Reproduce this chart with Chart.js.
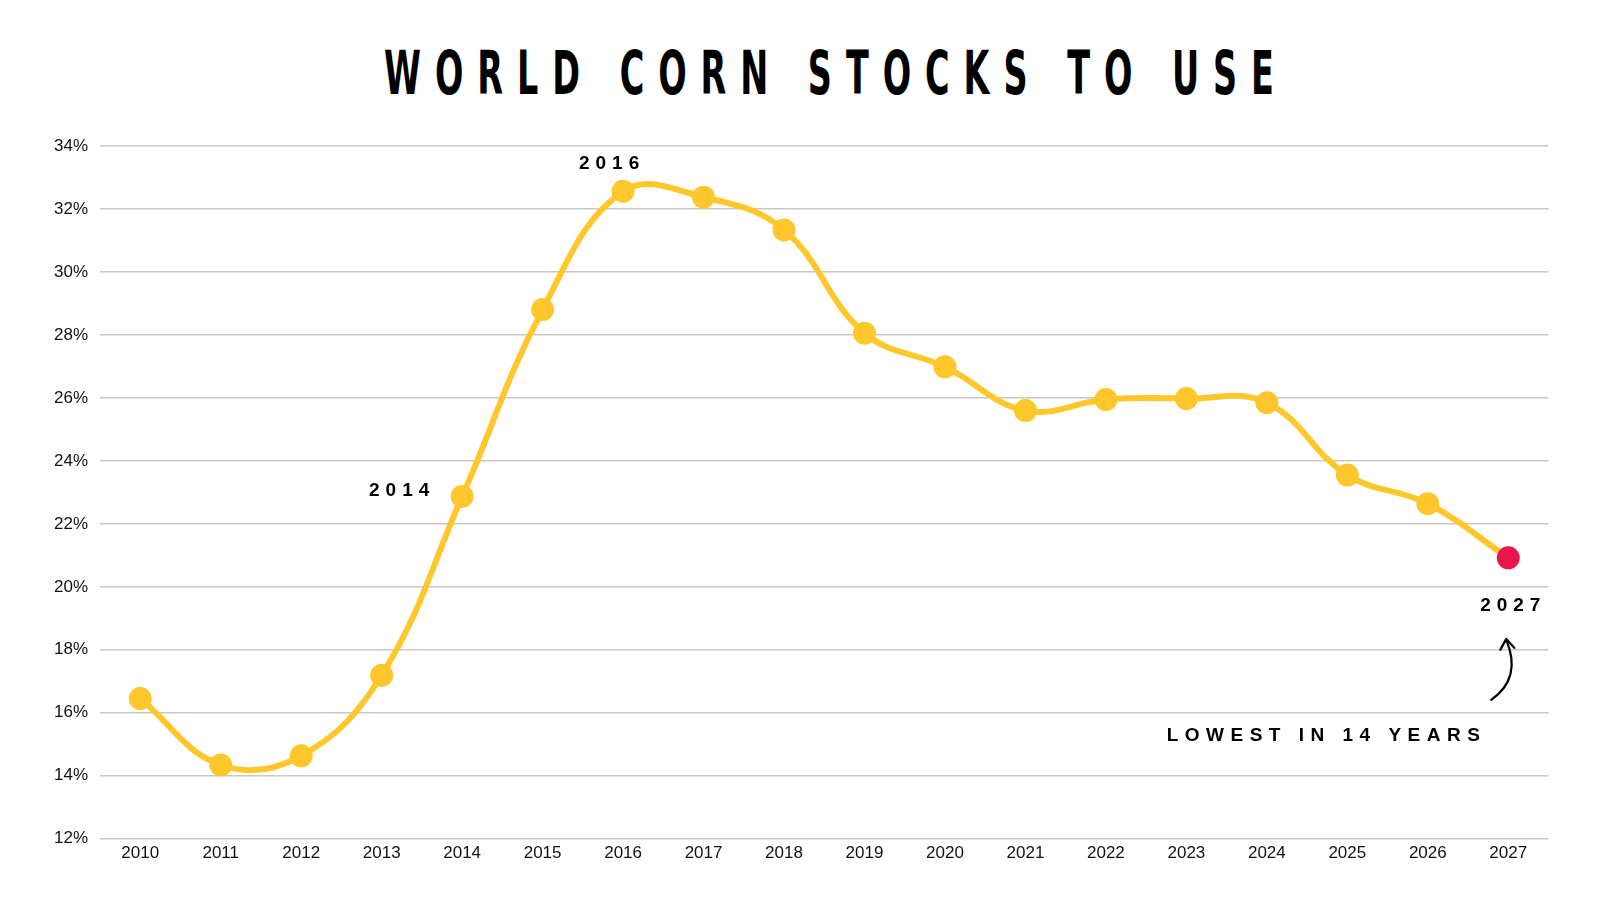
<!DOCTYPE html>
<html><head><meta charset="utf-8">
<script src="https://cdn.jsdelivr.net/npm/chart.js@4"></script>
<style>
html,body{margin:0;padding:0;background:#fff;width:1600px;height:900px;overflow:hidden}
#tbox{position:absolute;left:0;top:38px;width:1600px;height:80px}
#title{position:absolute;left:0;top:0;white-space:nowrap;font-family:"DejaVu Sans Condensed","DejaVu Sans",sans-serif;font-weight:bold;font-size:60px;color:#000;line-height:70px;transform-origin:0 0}
#wrap{position:absolute;left:0;top:124px;width:1560px;height:750px}
</style></head>
<body>
<div id="tbox"><span id="title">WORLD CORN STOCKS TO USE</span></div>
<div id="wrap"><canvas id="c" width="1560" height="750"></canvas></div>
<script>
const years = ["2010","2011","2012","2013","2014","2015","2016","2017","2018","2019","2020","2021","2022","2023","2024","2025","2026","2027"];
const stocksToUse = [16.45,14.34,14.63,17.19,22.87,28.81,32.57,32.38,31.34,28.06,26.99,25.6,25.95,25.98,25.85,23.55,22.64,20.92];
const yTicks = [12,14,16,18,20,22,24,26,28,30,32,34];
const annotations = [
  {year:"2016", text:"2016", dx:-14, dy:-27, size:19, sp:6},
  {year:"2014", text:"2014", dx:-63, dy:-6, size:19, sp:6},
  {year:"2027", text:"2027", dx:2, dy:48, size:19, sp:6},
  {year:"2027", text:"LOWEST IN 14 YEARS", dx:-185, dy:178, size:19, sp:6.5}
];
const yellow = "#FFC72C", red = "#E8174A";

// fit the condensed, letter-spaced title to the reference width
(function(){
  const t = document.getElementById("title");
  const sx = 0.62, target = 890, left = 384;
  const n = t.textContent.length;
  t.style.letterSpacing = "0px";
  const w0 = t.getBoundingClientRect().width;
  const ls = (target/sx - w0)/(n-1);
  t.style.letterSpacing = ls + "px";
  t.style.transform = "scaleX(" + sx + ")";
  t.style.left = left + "px";
})();

const annotPlugin = {
  id:"annot",
  afterDatasetsDraw(chart){
    const ctx = chart.ctx, xs = chart.scales.x, ys = chart.scales.y;
    ctx.save();
    ctx.fillStyle = "#000";
    ctx.textAlign = "center"; ctx.textBaseline = "middle";
    annotations.forEach(a=>{
      ctx.font = "bold " + a.size + "px 'Liberation Sans', Arial, sans-serif";
      if (ctx.letterSpacing !== undefined) ctx.letterSpacing = a.sp + "px";
      const i = years.indexOf(a.year);
      const px = xs.getPixelForValue(i), py = ys.getPixelForValue(stocksToUse[i]);
      ctx.fillText(a.text, px + a.dx + a.sp/2, py + a.dy);
    });
    if (ctx.letterSpacing !== undefined) ctx.letterSpacing = "0px";
    // arrow pointing at the 2027 label
    const i = years.length-1;
    const px = xs.getPixelForValue(i), py = ys.getPixelForValue(stocksToUse[i]);
    ctx.strokeStyle = "#000"; ctx.lineWidth = 2.2; ctx.lineCap = "round"; ctx.lineJoin = "round";
    ctx.beginPath();
    ctx.moveTo(px-17, py+142);
    ctx.quadraticCurveTo(px+14, py+120, px-2, py+82);
    ctx.stroke();
    ctx.beginPath();
    ctx.moveTo(px-8, py+92); ctx.lineTo(px-2, py+81); ctx.lineTo(px+6, py+90);
    ctx.stroke();
    ctx.restore();
  }
};

new Chart(document.getElementById("c"), {
  type:"line",
  data:{labels:years, datasets:[{
    data:stocksToUse,
    borderColor:yellow, borderWidth:6, tension:0.4,
    pointRadius:11.5, pointHoverRadius:11.5,
    pointBackgroundColor: stocksToUse.map((v,i)=> i===stocksToUse.length-1 ? red : yellow),
    pointBorderColor: stocksToUse.map((v,i)=> i===stocksToUse.length-1 ? red : yellow),
    pointBorderWidth:0
  }]},
  options:{
    responsive:false, animation:false, devicePixelRatio:1,
    layout:{padding:{left:42,right:0,top:20,bottom:13}},
    plugins:{legend:{display:false}, tooltip:{enabled:false}},
    scales:{
      x:{offset:true, grid:{display:false}, border:{display:false},
         ticks:{color:"#111", font:{family:"'Liberation Sans', Arial, sans-serif", size:17}, padding:-3}},
      y:{min:12, max:34, afterBuildTicks(ax){ax.ticks = yTicks.map(v=>({value:v}));},
         grid:{color:"#c8c8c8", lineWidth:1.5, drawTicks:false}, border:{display:false},
         ticks:{color:"#111", font:{family:"'Liberation Sans', Arial, sans-serif", size:17}, padding:12,
                callback:v=>v+"%"}}
    }
  },
  plugins:[annotPlugin]
});
</script>
</body></html>
